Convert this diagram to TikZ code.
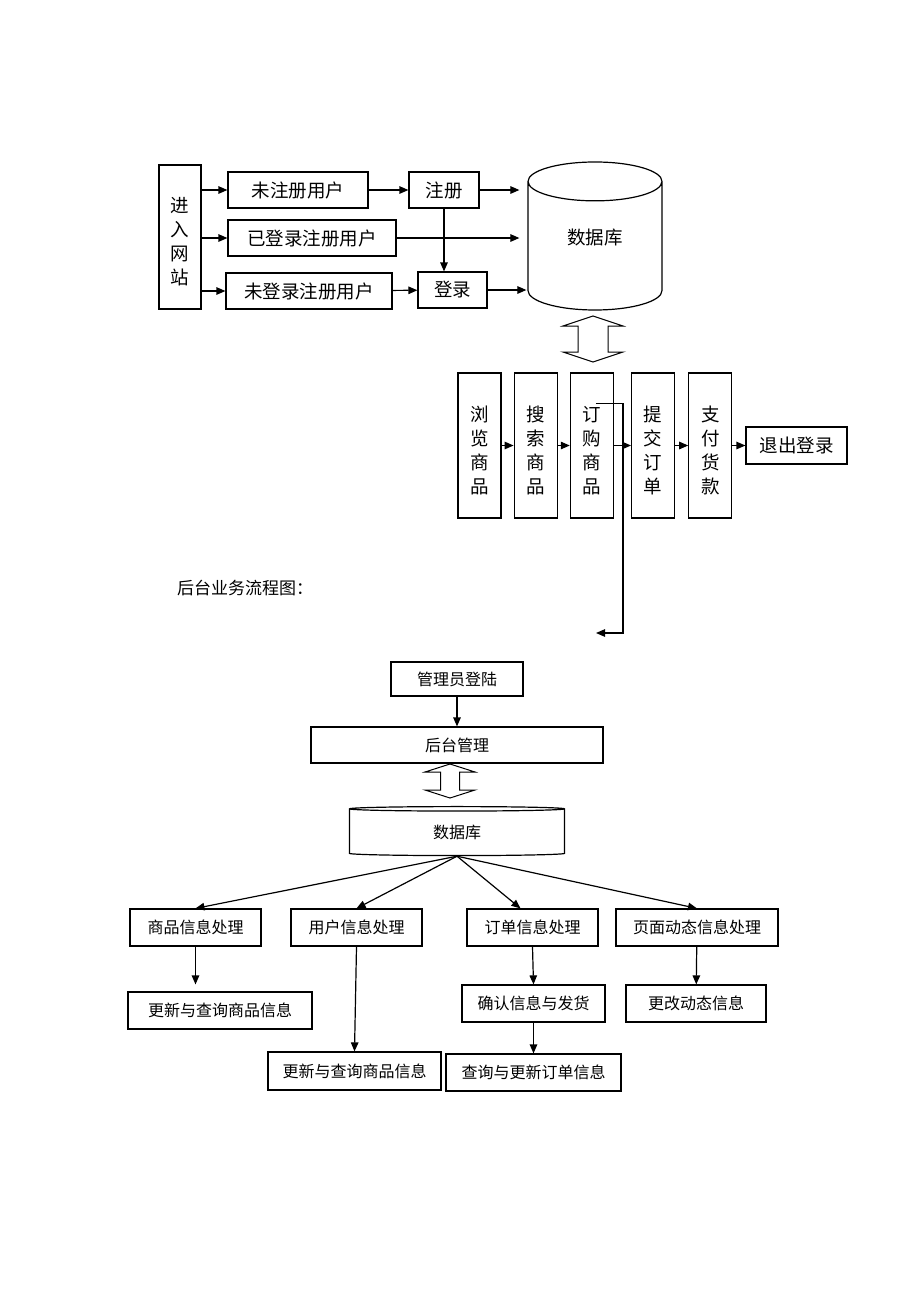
\documentclass[tikz,border=0pt]{standalone}
\usepackage{fontspec}
\newfontfamily\cjk{Noto Sans CJK SC}
\usetikzlibrary{shapes.geometric, arrows.meta, positioning}
\usepackage{xcolor}

\newcommand\vtext[1]{\raisebox{-7pt}[\height][\depth]{\begin{tabular}{@{}c@{}}#1\end{tabular}}}
\newcommand\uptext[2]{\raisebox{#1}[\height][\depth]{#2}}

\begin{document}
\begin{tikzpicture}[x=1pt, y=-1pt,
    box/.style={rectangle, draw, line width=1.2pt, inner sep=0pt, font=\cjk\fontsize{18.5}{24}\selectfont},
    vbox/.style={box, minimum width=43pt, minimum height=145pt},
    sbox/.style={rectangle, draw, line width=1.2pt, inner sep=0pt, minimum height=37pt, font=\cjk\fontsize{16}{20}\selectfont},
    db/.style={cylinder, shape border rotate=90, draw, line width=1.2pt, inner sep=0pt},
    arr/.style={-{Triangle[length=9pt,width=7.5pt]}, line width=1.2pt}
]
\useasboundingbox (0,0) rectangle (920,1302);

\node[box, minimum width=42pt, minimum height=144pt] (site) at (180,237) {\vtext{进\\入\\网\\站}};
\node[box, minimum width=140pt, minimum height=36pt] (unreg) at (298,190) {未注册用户};
\node[box, minimum width=168pt, minimum height=36pt] (logged) at (312,238) {已登录注册用户};
\node[box, minimum width=166pt, minimum height=36pt] (unlog) at (309,291) {未登录注册用户};
\node[box, minimum width=70pt, minimum height=36pt] (reg) at (444,190) {注册};
\node[box, minimum width=69pt, minimum height=36pt] (login) at (452.5,290) {登录};
\node[db, aspect=0.7, minimum width=134pt, minimum height=148pt, font=\cjk\fontsize{18.5}{24}\selectfont] (store) at (595,246) {\uptext{8pt}{数据库}};

\draw[arr] (site.east |- unreg.west) -- (unreg.west);
\draw[arr] (site.east |- logged.west) -- (logged.west);
\draw[arr] (site.east |- unlog.west) -- (unlog.west);
\draw[arr] (unreg) -- (reg);
\draw[arr, shorten >=8pt] (reg.east) -- (store.west |- reg.east);
\draw[arr, shorten >=8pt] (logged.east) -- (store.west |- logged.east);
\draw[arr] (reg.south) -- (reg.south |- login.north);
\draw[arr] (unlog) -- (login);
\draw[arr, shorten >=1pt] (login.east) -- (store.west |- login.east);

\coordinate (swap) at (593,339);
\draw[line width=1pt] ([yshift=23pt]swap) -- ++(30,10) -- ++(-15,0) -- ++(0,26) -- ++(15,0) -- ++(-30,10) -- ++(-30,-10) -- ++(15,0) -- ++(0,-26) -- ++(-15,0) -- cycle;

\node[vbox] (browse) at (479.5,445.5) {\vtext{浏\\览\\商\\品}};
\node[vbox, right=12pt of browse] (search) {\vtext{搜\\索\\商\\品}};
\node[vbox, right=12pt of search] (order) {\vtext{订\\购\\商\\品}};
\node[vbox, right=17pt of order] (submit) {\vtext{提\\交\\订\\单}};
\node[vbox, right=13pt of submit] (pay) {\vtext{支\\付\\货\\款}};
\node[box, minimum width=101pt, minimum height=37pt, right=13pt of pay] (logout) {退出登录};

\draw[arr] (browse) -- (search);
\draw[arr] (search) -- (order);
\draw[arr] (order) -- (submit);
\draw[arr] (submit) -- (pay);
\draw[arr] (pay) -- (logout);

\coordinate (back) at (596,633);
\draw[arr] ([xshift=4pt,yshift=42pt]order.center) -- ++(27,0) |- (back);

\node[anchor=west, inner sep=0pt, font=\cjk\fontsize{17}{20}\selectfont] (title) at (177,588) {后台业务流程图：};

\node[sbox, minimum width=132pt, minimum height=34pt] (admin) at (457,679) {管理员登陆};
\node[sbox, minimum width=292pt, minimum height=36pt] (mgmt) at (457,745) {后台管理};
\draw[arr] (admin) -- (mgmt);

\coordinate (swap2) at (450,781);
\draw[line width=1pt] ([yshift=17pt]swap2) -- ++(25,8) -- ++(-15.5,0) -- ++(0,18) -- ++(15.5,0) -- ++(-25,8) -- ++(-25,-8) -- ++(15.5,0) -- ++(0,-18) -- ++(-15.5,0) -- cycle;

\node[db, aspect=0.093, minimum width=215pt, minimum height=49pt, font=\cjk\fontsize{16}{20}\selectfont] (store2) at (457,832.5) {数据库};

\node[sbox, minimum width=131pt] (goods) at (195.5,927.5) {商品信息处理};
\node[sbox, minimum width=131pt] (user) at (356.5,927.5) {用户信息处理};
\node[sbox, minimum width=131pt] (orders) at (532.5,927.5) {订单信息处理};
\node[sbox, minimum width=162pt] (page) at (697,927.5) {页面动态信息处理};
\node[sbox, minimum width=184pt] (upd1) at (220,1010.5) {更新与查询商品信息};
\node[sbox, minimum width=173pt, minimum height=38pt] (upd2) at (354.5,1071) {更新与查询商品信息};
\node[sbox, minimum width=143pt] (confirm) at (533.5,1003.5) {确认信息与发货};
\node[sbox, minimum width=175pt] (query) at (533.5,1072.5) {查询与更新订单信息};
\node[sbox, minimum width=140pt] (change) at (696,1003.5) {更改动态信息};

\draw[arr] (store2.south) -- (goods.north);
\draw[arr] (store2.south) -- (user.north);
\draw[arr] (store2.south) -- ([xshift=-12pt]orders.north);
\draw[arr] (store2.south) -- (page.north);
\draw[arr, shorten >=7pt] (goods.south) -- (goods.south |- upd1.north);
\draw[arr] (user.south) -- (upd2.north);
\draw[arr] (orders.south) -- (confirm.north);
\draw[arr] (confirm) -- (query);
\draw[arr] (page) -- (change);
\end{tikzpicture}
\end{document}
